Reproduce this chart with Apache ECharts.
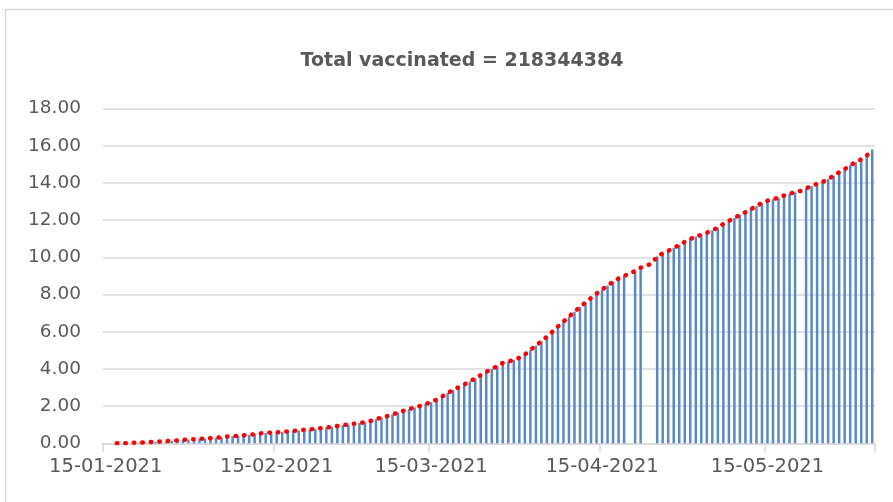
<!DOCTYPE html>
<html>
<head>
<meta charset="utf-8">
<script src="https://cdn.jsdelivr.net/npm/echarts@6/dist/echarts.min.js"></script>
<style>
  html, body { margin: 0; padding: 0; background: #ffffff; }
  #chart { width: 893px; height: 502px; }
</style>
</head>
<body>
<div id="chart"></div>
<script>
// ---- data ----
var titleText = 'Total vaccinated = 218344384';
var startDate = [2021, 0, 15];   // 15-01-2021
var dayCount = 140;              // through 03-06-2021

// daily values, dotted red line (one per day from 15-01-2021)
var lineValues = [
  null, null, 0.00, 0.00, 0.01, 0.03, 0.04, 0.05, 0.07, 0.08,
  0.10, 0.12, 0.13, 0.15, 0.19, 0.20, 0.22, 0.24, 0.26, 0.27,
  0.29, 0.33, 0.36, 0.38, 0.41, 0.43, 0.45, 0.49, 0.53, 0.56,
  0.58, 0.59, 0.61, 0.64, 0.67, 0.69, 0.73, 0.75, 0.78, 0.81,
  0.85, 0.88, 0.93, 0.98, 1.01, 1.05, 1.09, 1.13, 1.20, 1.29,
  1.39, 1.46, 1.55, 1.65, 1.75, 1.84, 1.92, 2.01, 2.11, 2.21,
  2.35, 2.51, 2.70, 2.86, 3.02, 3.16, 3.32, 3.49, 3.67, 3.84,
  4.00, 4.15, 4.32, 4.39, 4.48, 4.60, 4.77, 5.02, 5.25, 5.48,
  5.73, 6.00, 6.28, 6.54, 6.81, 7.08, 7.33, 7.57, 7.81, 8.05,
  8.27, 8.48, 8.68, 8.86, 9.01, 9.10, 9.28, 9.44, 9.55, 9.66,
  10.05, 10.21, 10.35, 10.50, 10.66, 10.83, 10.98, 11.11, 11.21, 11.32,
  11.45, 11.60, 11.80, 11.96, 12.12, 12.28, 12.42, 12.59, 12.75, 12.92,
  13.04, 13.12, 13.21, 13.32, 13.42, 13.50, 13.57, 13.71, 13.83, 13.95,
  14.05, 14.21, 14.38, 14.57, 14.74, 14.95, 15.11, 15.27, 15.47, 15.80
];

// daily bars (null = no bar drawn that day)
var barValues = [
  null, null, 0.00, 0.00, 0.01, 0.03, 0.04, 0.05, 0.07, 0.08,
  0.10, 0.12, 0.13, 0.15, 0.19, 0.20, 0.22, 0.24, 0.26, 0.27,
  0.29, 0.33, 0.36, 0.38, 0.41, 0.43, 0.45, 0.49, 0.53, 0.56,
  0.58, 0.59, 0.61, 0.64, 0.67, 0.69, 0.73, 0.75, 0.78, 0.81,
  0.85, 0.88, 0.93, 0.98, 1.01, 1.05, 1.09, 1.13, 1.20, 1.29,
  1.39, 1.46, 1.55, 1.65, 1.75, 1.84, 1.92, 2.01, 2.11, 2.21,
  2.35, 2.51, 2.70, 2.86, 3.02, 3.16, 3.32, 3.49, 3.67, 3.84,
  4.00, 4.15, 4.32, 4.39, 4.48, 4.60, 4.77, 5.02, 5.25, 5.48,
  5.73, 6.00, 6.28, 6.54, 6.81, 7.08, 7.33, 7.57, 7.81, 8.05,
  8.27, 8.48, 8.68, 8.86, 9.01, null, 9.28, 9.44, null, null,
  10.05, 10.21, 10.35, 10.50, 10.66, 10.83, 10.98, 11.11, 11.21, 11.32,
  11.45, 11.60, 11.80, 11.96, 12.12, 12.28, 12.42, 12.59, 12.75, 12.92,
  13.04, 13.12, 13.21, 13.32, 13.42, 13.50, null, 13.71, 13.83, 13.95,
  14.05, 14.21, 14.38, 14.57, 14.74, 14.95, 15.11, 15.27, 15.47, 15.80
];

var yMin = 0, yMax = 18, yStep = 2;

// ---- build categories (dd-mm-yyyy) ----
function pad(n) { return (n < 10 ? '0' : '') + n; }
var categories = [];
for (var i = 0; i < dayCount; i++) {
  var dt = new Date(startDate[0], startDate[1], startDate[2] + i);
  categories.push(pad(dt.getDate()) + '-' + pad(dt.getMonth() + 1) + '-' + dt.getFullYear());
}
function isMid(idx) { return categories[idx].slice(0, 3) === '15-'; }

var textColor = '#595959';
var gridColor = '#d9d9d9';
var fontFam = 'DejaVu Sans';

var chart = echarts.init(document.getElementById('chart'), null, { renderer: 'canvas' });
chart.setOption({
  animation: false,
  backgroundColor: '#ffffff',
  title: {
    text: titleText,
    left: 457, top: 47, textAlign: 'center',
    textStyle: { fontFamily: fontFam, fontSize: 19, fontWeight: 'bold', color: textColor }
  },
  graphic: [{
    type: 'rect', silent: true,
    shape: { x: 5.5, y: 9.5, width: 1000, height: 1000 },
    style: { fill: 'none', stroke: gridColor, lineWidth: 1.5 }
  }],
  grid: { left: 103, right: 18, top: 108.5, bottom: 58.7, containLabel: false },
  xAxis: {
    type: 'category',
    data: categories,
    boundaryGap: true,
    axisLine: { show: true, lineStyle: { color: gridColor, width: 1.5 } },
    axisTick: { show: true, length: 9, interval: function (idx) { return isMid(idx); },
                lineStyle: { color: gridColor, width: 1.5 } },
    axisLabel: {
      interval: function (idx) { return isMid(idx); },
      color: textColor, fontFamily: fontFam, fontSize: 19.5, margin: 14
    },
    splitLine: { show: false }
  },
  yAxis: {
    type: 'value',
    min: yMin, max: yMax, interval: yStep,
    axisLine: { show: false },
    axisTick: { show: false },
    axisLabel: {
      color: textColor, fontFamily: fontFam, fontSize: 18.5, margin: 22,
      formatter: function (v) { return v.toFixed(2); }
    },
    splitLine: { show: true, lineStyle: { color: gridColor, width: 1.5 } }
  },
  series: [
    {
      type: 'bar',
      data: barValues,
      barWidth: 2.5,
      itemStyle: { color: '#5a8ac6' },
      z: 2
    },
    {
      type: 'line',
      data: lineValues,
      connectNulls: true,
      symbol: 'none',
      smooth: false,
      lineStyle: { color: '#ff0000', width: 4.5, type: [0.5, 8], cap: 'round' },
      z: 3
    }
  ]
});
</script>
</body>
</html>
